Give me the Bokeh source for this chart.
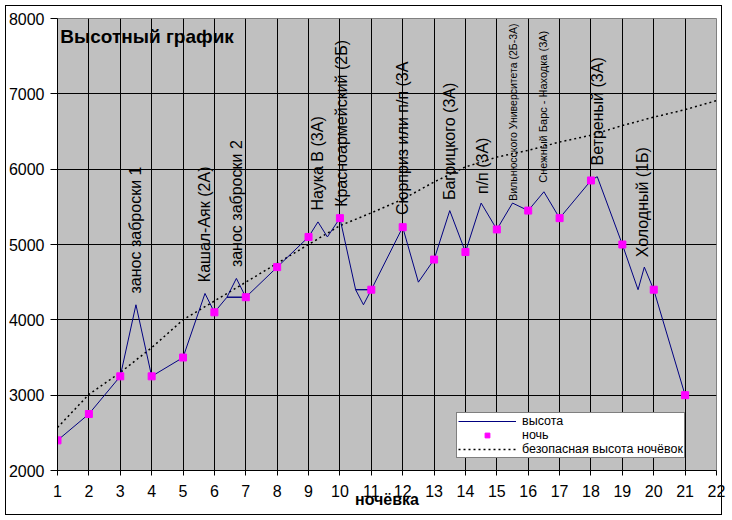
import math
from bokeh.plotting import figure
from bokeh.models import (ColumnDataSource, LabelSet, Label, Legend, LegendItem,
                          FixedTicker, Range1d, BoxAnnotation, InlineStyleSheet)
from bokeh.core.properties import value
from bokeh.embed import file_html
from bokeh.resources import INLINE

# ---------------- data ----------------
# altitude profile (высота): x = day, h = metres (path as drawn in the original)
path_x = [1, 2, 3, 3.5, 4, 5, 5.7, 6, 6.4, 6.7, 7, 6.4, 7, 8, 9, 9.3, 9.6, 10,
          10.5, 10.75, 11, 10.5, 11, 12, 12.5, 13, 13.5, 14, 14.5, 15, 15.5, 16,
          16.5, 17, 18, 18.2, 19, 19.5, 19.7, 20, 21]
path_h = [2400, 2750, 3250, 4200, 3250, 3500, 4350, 4100, 4300, 4550, 4300, 4300,
          4300, 4700, 5100, 5300, 5100, 5350, 4400, 4200, 4400, 4400, 4400, 5230,
          4500, 4800, 5450, 4900, 5550, 5200, 5550, 5450, 5700, 5350, 5850, 5900,
          5000, 4400, 4700, 4400, 3000]

# night camps (ночь)
night_x = [1, 2, 3, 4, 5, 6, 7, 8, 9, 10, 11, 12, 13, 14, 15, 16, 17, 18, 19, 20, 21]
night_h = [2400, 2750, 3250, 3250, 3500, 4100, 4300, 4700, 5100, 5350, 4400, 5230,
           4800, 4900, 5200, 5450, 5350, 5850, 5000, 4400, 3000]

# safe camp altitude (безопасная высота ночёвок)
safe_x = [1, 2, 3, 4, 5, 6, 7, 8, 9, 10, 11, 12, 13, 14, 15, 16, 17, 18, 19, 20, 21, 22]
safe_h = [2570, 3010, 3300, 3630, 4000, 4250, 4500, 4750, 5000, 5250, 5420, 5600,
          5830, 6030, 6160, 6250, 6360, 6450, 6580, 6690, 6790, 6910]

x_ticks = [1, 2, 3, 4, 5, 6, 7, 8, 9, 10, 11, 12, 13, 14, 15, 16, 17, 18, 19, 20, 21, 22]
y_ticks = [2000, 3000, 4000, 5000, 6000, 7000, 8000]

# pass / event labels
route_text = ["занос заброски 1", "Кашал-Аяк (2А)", "занос заброски 2", "Наука В (3А)",
              "Красноармейский (2Б)", "Сюрприз или п/п (3А", "Багрицкого (3А)",
              "п/п (3А)", "Вильнюсского Университета (2Б-3А)",
              "Снежный Барс - Находка (3А)", "Ветреный (3А)", "Холодный (1Б)"]
route_x = [3.5, 5.68, 6.7, 9.28, 10.04, 11.99, 13.5, 14.55, 15.5, 16.47, 18.2, 19.65]
route_y = [4350, 4500, 4700, 5450, 5500, 5390, 5590, 5670, 5580, 5820, 6050, 4830]
route_size = ["16px", "16px", "16px", "16px", "16px", "16px", "16px", "16px",
              "10.5px", "11px", "16px", "16px"]

FONT = "Liberation Sans"
W, H = 727, 520

p = figure(width=W, height=H,
           x_range=Range1d(1, 22), y_range=Range1d(2000, 8000),
           output_backend="svg", toolbar_location=None,
           min_border_left=57, min_border_right=11,
           min_border_top=18, min_border_bottom=50)

# outer chart border (drawn over the canvas)
p.stylesheets = [InlineStyleSheet(css=(
    ":host::after { content: ''; position: absolute; left: 5px; top: 5px; "
    "right: 5px; bottom: 5px; border: 1px solid black; pointer-events: none; "
    "z-index: 1000; }"))]

p.background_fill_color = "#C0C0C0"
p.border_fill_color = "white"
p.outline_line_color = "#808080"
p.outline_line_width = 1

# grid
p.xgrid.ticker = FixedTicker(ticks=x_ticks)
p.ygrid.ticker = FixedTicker(ticks=y_ticks)
for g in (p.xgrid, p.ygrid):
    g.grid_line_color = "black"
    g.grid_line_alpha = 1
    g.grid_line_width = 1

# axes
p.xaxis.ticker = FixedTicker(ticks=x_ticks)
p.yaxis.ticker = FixedTicker(ticks=y_ticks)
p.xaxis.major_label_overrides = {t: str(t) for t in x_ticks}
p.yaxis.major_label_overrides = {t: str(t) for t in y_ticks}
for ax in (p.xaxis, p.yaxis):
    ax.axis_line_color = "black"
    ax.major_tick_line_color = "black"
    ax.major_tick_in = 0
    ax.minor_tick_in = 0
    ax.minor_tick_out = 0
    ax.major_label_text_font = FONT
    ax.major_label_text_font_size = "16px"
    ax.major_label_text_color = "black"
p.xaxis.major_tick_out = 5
p.xaxis.major_label_standoff = 9
p.yaxis.major_tick_out = 7
p.yaxis.major_label_standoff = 6

p.xaxis.axis_label = "ночёвка"
p.xaxis.axis_label_text_font = FONT
p.xaxis.axis_label_text_font_size = "16px"
p.xaxis.axis_label_text_font_style = "bold"
p.xaxis.axis_label_text_color = "black"
p.xaxis.axis_label_standoff = -9

# series
r_safe = p.line(safe_x, safe_h, line_color="black", line_dash="2 3", line_width=1.5)
r_line = p.line(path_x, path_h, line_color="#000080", line_width=1)
r_night = p.scatter(night_x, night_h, marker="square", size=7,
                    fill_color="#FF00FF", line_color="#FF00FF")

# rotated pass labels
src = ColumnDataSource(dict(x=route_x, y=route_y, text=route_text, size=route_size))
labels = LabelSet(x="x", y="y", text="text", source=src, angle=math.pi / 2,
                  text_align="left", text_baseline="middle",
                  text_font=value(FONT), text_font_size=dict(field="size"),
                  text_color="black")
p.add_layout(labels)

# title inside plot
p.add_layout(Label(x=1.09, y=7765, text="Высотный график", text_font=FONT,
                   text_font_size="19px", text_font_style="bold",
                   text_align="left", text_baseline="middle", text_color="black"))

legend = Legend(items=[LegendItem(label="высота", renderers=[r_line]),
                       LegendItem(label="ночь", renderers=[r_night]),
                       LegendItem(label="безопасная высота ночёвок", renderers=[r_safe])],
                location=(399, 12), margin=0, padding=1, spacing=0,
                glyph_width=58, glyph_height=12, label_height=12, label_standoff=6,
                label_text_font=FONT, label_text_font_size="12.5px",
                label_text_color="black",
                border_line_color="black", border_line_width=1,
                background_fill_color="white", background_fill_alpha=1)
p.add_layout(legend)

# outer border also on the canvas itself
p.add_layout(BoxAnnotation(left=5.5, right=W - 5.5, top=5.5, bottom=H - 5.5,
                           left_units="canvas", right_units="canvas",
                           top_units="canvas", bottom_units="canvas",
                           fill_alpha=0, line_color="black", line_width=1,
                           line_alpha=1, level="overlay"))

open("out.html", "w").write(file_html(p, INLINE))
